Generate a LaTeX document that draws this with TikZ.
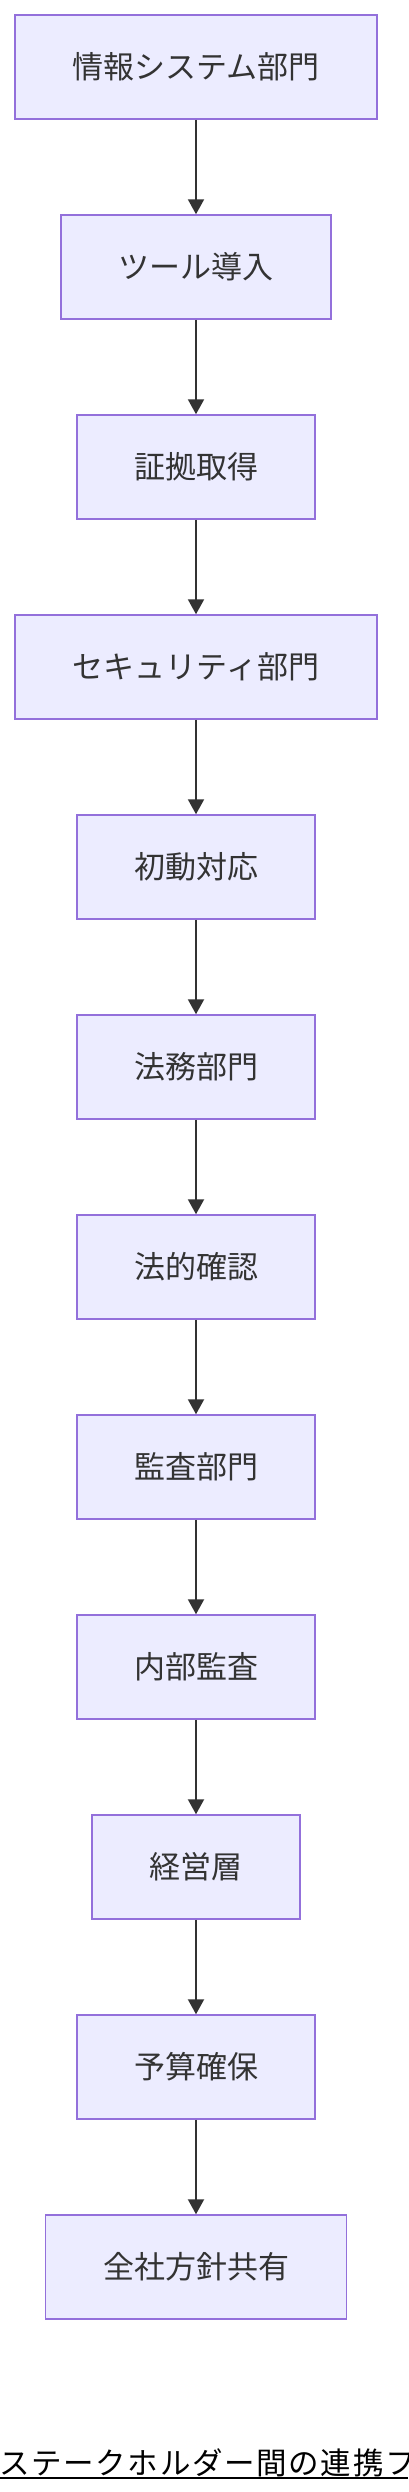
\documentclass[tikz,border=0pt]{standalone}
\usepackage{fontspec}
\usetikzlibrary{arrows.meta}
\newfontfamily\jpfont{Noto Sans CJK JP}
\newfontfamily\titlefont[LetterSpace=5.5]{Noto Sans CJK JP}
\definecolor{boxfill}{HTML}{ECECFF}
\definecolor{boxline}{HTML}{9370DB}
\definecolor{edgecol}{HTML}{333333}
\tikzset{
  flowbox/.style={draw=boxline, fill=boxfill, line width=1.5pt, inner sep=0pt,
    minimum height=104pt, text=edgecol,
    font=\jpfont\fontsize{31}{37}\selectfont},
  flowarrow/.style={draw=edgecol, line width=2pt,
    -{Triangle[width=16pt,length=15pt]}},
}
\begin{document}
\begin{tikzpicture}[x=1pt,y=-1pt]
\useasboundingbox (0,0) rectangle (408,2492);
\fill[white] (0,0) rectangle (408,2492);
\node[flowbox, minimum width=362pt] (n1) at (196,67) {\raisebox{2pt}{情報システム部門}};
\node[flowbox, minimum width=270pt] (n2) at (196,267) {\raisebox{2pt}{ツール導入}};
\node[flowbox, minimum width=238pt] (n3) at (196,467) {\raisebox{2pt}{証拠取得}};
\node[flowbox, minimum width=362pt] (n4) at (196,667) {\raisebox{2pt}{セキュリティ部門}};
\node[flowbox, minimum width=238pt] (n5) at (196,867) {\raisebox{2pt}{初動対応}};
\node[flowbox, minimum width=238pt] (n6) at (196,1067) {\raisebox{2pt}{法務部門}};
\node[flowbox, minimum width=238pt] (n7) at (196,1267) {\raisebox{2pt}{法的確認}};
\node[flowbox, minimum width=238pt] (n8) at (196,1467) {\raisebox{2pt}{監査部門}};
\node[flowbox, minimum width=238pt] (n9) at (196,1667) {\raisebox{2pt}{内部監査}};
\node[flowbox, minimum width=208pt] (n10) at (196,1867) {\raisebox{2pt}{経営層}};
\node[flowbox, minimum width=238pt] (n11) at (196,2067) {\raisebox{2pt}{予算確保}};
\node[flowbox, minimum width=301pt] (n12) at (196,2267) {\raisebox{2pt}{全社方針共有}};
\foreach \a/\b in {n1/n2,n2/n3,n3/n4,n4/n5,n5/n6,n6/n7,n7/n8,n8/n9,n9/n10,n10/n11,n11/n12}
  \draw[flowarrow] (\a.south) -- (\b.north);
\begin{scope}
\clip (0,0) rectangle (408,2492);
\node[anchor=base west, inner sep=0pt, text=black,
  font=\titlefont\fontsize{30.5}{36}\selectfont] (title) at (-1,2474) {ステークホルダー間の連携フ};
\coordinate (ulL) at (0,2478);
\coordinate (ulR) at (408,2478);
\draw[black, line width=2.5pt] (ulL) -- (ulR);
\end{scope}
\end{tikzpicture}
\end{document}
